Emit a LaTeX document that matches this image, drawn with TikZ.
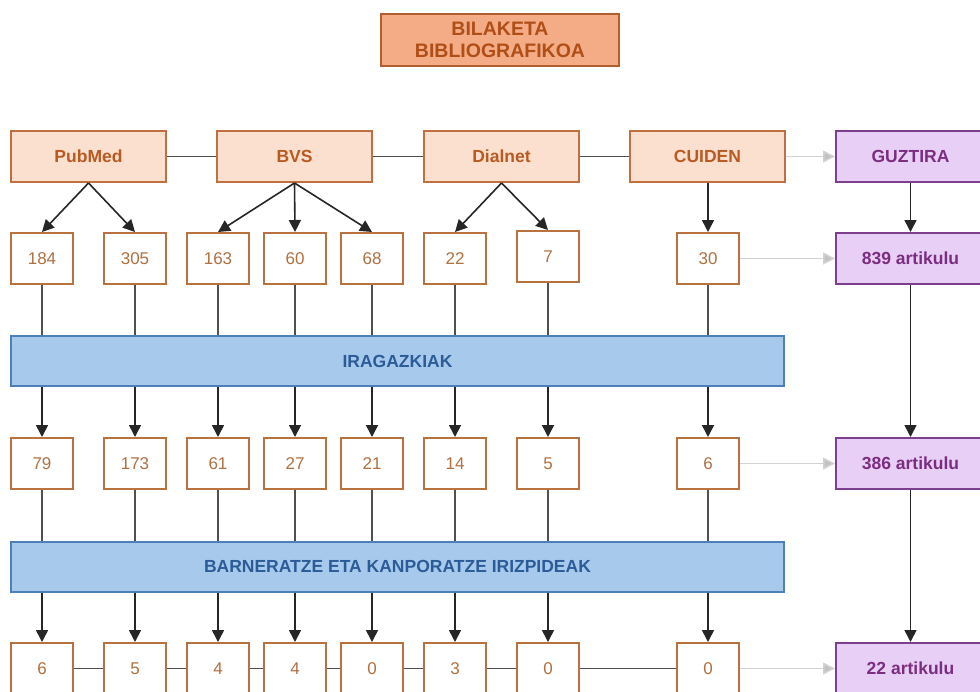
\documentclass[tikz,border=0pt]{standalone}
\usepackage{fontspec}
\setmainfont{Liberation Sans}
\usetikzlibrary{arrows.meta,calc}
\definecolor{srcfill}{HTML}{FCE0CF}
\definecolor{srcdraw}{HTML}{C07040}
\definecolor{srctext}{HTML}{B85A22}
\definecolor{titfill}{HTML}{F4AC86}
\definecolor{titdraw}{HTML}{B0602F}
\definecolor{tittext}{HTML}{B04E18}
\definecolor{numdraw}{HTML}{B8723F}
\definecolor{numtext}{HTML}{B07040}
\definecolor{purfill}{HTML}{E8CFF5}
\definecolor{purdraw}{HTML}{7E3F8E}
\definecolor{purtext}{HTML}{7B2D80}
\definecolor{barfill}{HTML}{A6C9EC}
\definecolor{bardraw}{HTML}{4D80B8}
\definecolor{bartext}{HTML}{2C5C97}
\definecolor{lnk}{HTML}{505050}
\definecolor{lite}{HTML}{D2D2D2}
\tikzset{
  titlebox/.style={draw=titdraw,fill=titfill,line width=2pt,minimum width=238pt,minimum height=52pt,inner sep=0pt,align=center,
    text=tittext,font=\fontsize{19.5}{22}\selectfont\bfseries},
  srcbox/.style={draw=srcdraw,fill=srcfill,line width=2pt,minimum width=155pt,minimum height=51pt,inner sep=0pt,
    text=srctext,font=\fontsize{17.5}{20}\selectfont\bfseries},
  numbox/.style={draw=numdraw,fill=white,line width=2pt,minimum width=62pt,minimum height=51pt,inner sep=0pt,
    text=numtext,font=\fontsize{17}{20}\selectfont},
  purbox/.style={draw=purdraw,fill=purfill,line width=2pt,minimum width=149pt,minimum height=51pt,inner sep=0pt,
    text=purtext,font=\fontsize{17.5}{20}\selectfont\bfseries},
  barbox/.style={draw=bardraw,fill=barfill,line width=2pt,minimum width=773pt,minimum height=50pt,inner sep=0pt,
    text=bartext,font=\fontsize{17.5}{20}\selectfont\bfseries},
  link/.style={draw=lnk,line width=1.6pt},
  arr/.style={draw=black!85,line width=1.6pt,-{Triangle[width=12pt,length=12pt]}},
  litearr/.style={draw=lite,line width=1.6pt,-{Triangle[width=12pt,length=12pt,fill=lite!92!black]}},
}
\begin{document}
\begin{tikzpicture}[x=1pt,y=-1pt]
\useasboundingbox (0,0) rectangle (980,691);
\clip (0,0) rectangle (980,691);
% title
\node[titlebox] (title) at (500,40) {BILAKETA\\BIBLIOGRAFIKOA};
% sources
\node[srcbox] (pub) at (88.5,156.5) {PubMed};
\node[srcbox] (bvs) at (294.5,156.5) {BVS};
\node[srcbox] (dia) at (501.5,156.5) {Dialnet};
\node[srcbox] (cui) at (707.5,156.5) {CUIDEN};
\node[purbox] (guz) at (910.5,156.5) {GUZTIRA};
% row 2
\node[numbox] (a1) at (42,258.5) {184};
\node[numbox] (a2) at (135,258.5) {305};
\node[numbox] (a3) at (218,258.5) {163};
\node[numbox] (a4) at (295,258.5) {60};
\node[numbox] (a5) at (372,258.5) {68};
\node[numbox] (a6) at (455,258.5) {22};
\node[numbox] (a7) at (548,256.5) {7};
\node[numbox] (a8) at (708,258.5) {30};
\node[purbox] (at) at (910.5,258.5) {839 artikulu};
% bar 1
\node[barbox] (bar1) at (397.5,361) {IRAGAZKIAK};
% row 3
\node[numbox] (b1) at (42,463.5) {79};
\node[numbox] (b2) at (135,463.5) {173};
\node[numbox] (b3) at (218,463.5) {61};
\node[numbox] (b4) at (295,463.5) {27};
\node[numbox] (b5) at (372,463.5) {21};
\node[numbox] (b6) at (455,463.5) {14};
\node[numbox] (b7) at (548,463.5) {5};
\node[numbox] (b8) at (708,463.5) {6};
\node[purbox] (bt) at (910.5,463.5) {386 artikulu};
% bar 2
\node[barbox] (bar2) at (397.5,566.5) {BARNERATZE ETA KANPORATZE IRIZPIDEAK};
% row 4
\node[numbox] (c1) at (42,668.5) {6};
\node[numbox] (c2) at (135,668.5) {5};
\node[numbox] (c3) at (218,668.5) {4};
\node[numbox] (c4) at (295,668.5) {4};
\node[numbox] (c5) at (372,668.5) {0};
\node[numbox] (c6) at (455,668.5) {3};
\node[numbox] (c7) at (548,668.5) {0};
\node[numbox] (c8) at (708,668.5) {0};
\node[purbox] (ct) at (910.5,668.5) {22 artikulu};
% top horizontal links
\draw[link] (pub) -- (bvs);
\draw[link] (bvs) -- (dia);
\draw[link] (dia) -- (cui);
\draw[litearr] (cui) -- (guz);
% source arrows
\draw[arr] (pub.south) -- (a1.north);
\draw[arr] (pub.south) -- (a2.north);
\draw[arr] (bvs.south) -- (a3.north);
\draw[arr] (bvs.south) -- (a4.north);
\draw[arr] (bvs.south) -- (a5.north);
\draw[arr] (dia.south) -- (a6.north);
\draw[arr] (dia.south) -- (a7.north);
\draw[arr] (cui.south -| a8.north) -- (a8.north);
\draw[arr] (guz.south) -- (at.north);
% row2 to bar1 to row3
\foreach \i in {1,...,8}{
  \draw[link] (a\i.south) -- (a\i.south |- bar1.north);
  \draw[arr] (b\i.north |- bar1.south) -- (b\i.north);
  \draw[link] (b\i.south) -- (b\i.south |- bar2.north);
  \draw[arr] (c\i.north |- bar2.south) -- (c\i.north);
}
\draw[litearr] (a8) -- (at);
\draw[litearr] (b8) -- (bt);
\draw[litearr] (c8) -- (ct);
\draw[arr] (at.south) -- (bt.north);
\draw[arr] (bt.south) -- (ct.north);
% row 4 links
\draw[link] (c1) -- (c2);
\draw[link] (c2) -- (c3);
\draw[link] (c3) -- (c4);
\draw[link] (c4) -- (c5);
\draw[link] (c5) -- (c6);
\draw[link] (c6) -- (c7);
\draw[link] (c7) -- (c8);
\end{tikzpicture}
\end{document}
